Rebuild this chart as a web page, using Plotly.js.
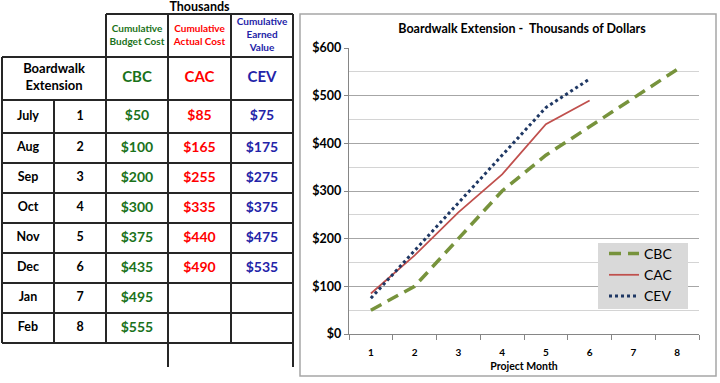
<!DOCTYPE html>
<html><head><meta charset="utf-8">
<script src="https://cdn.plot.ly/plotly-3.0.1.min.js"></script>
<style>html,body{margin:0;padding:0;background:#fff}#chart{width:720px;height:383px}</style>
</head><body><div id="chart"></div>
<script>
// ---- data ----
const months = ['July','Aug','Sep','Oct','Nov','Dec','Jan','Feb'];
const monthNums = [1,2,3,4,5,6,7,8];
const cbc = [50,100,200,300,375,435,495,555];
const cac = [85,165,255,335,440,490];
const cev = [75,175,275,375,475,535];
const seriesNames = ['CBC','CAC','CEV'];
const seriesHeaders = ['Cumulative<br>Budget Cost','Cumulative<br>Actual Cost','Cumulative<br>Earned<br>Value'];
const yTickVals = [0,100,200,300,400,500,600];
const tableTitle = 'Thousands';
const projectLabel = 'Boardwalk<br>Extension';
const chartTitle = 'Boardwalk Extension -  Thousands of Dollars';
const xTitle = 'Project Month';

// ---- layout geometry (pixels) ----
const W = 720, H = 383;
const colEdges = [2,54,106,168,231,293];
const rowEdges = [14,57,100,133,163,193,223,253,283,313,343];
const tailBottom = 367;
const tableColors = ['#1a721a','#ff0000','#2323a8'];
const lineColors = ['#77933c','#c0504d','#1f3864'];
const FONT = 'Lato, "Open Sans", sans-serif';

const colC = i => (colEdges[i] + colEdges[i+1]) / 2;
const rowC = i => (rowEdges[i] + rowEdges[i+1]) / 2;

const traces = [];
// chart lines
traces.push({x: monthNums.slice(0, cbc.length), y: cbc, name: seriesNames[0], type: 'scatter', mode: 'lines',
  line: {color: lineColors[0], width: 3.5, dash: '12px,7px'}, hoverinfo: 'skip'});
traces.push({x: monthNums.slice(0, cac.length), y: cac, name: seriesNames[1], type: 'scatter', mode: 'lines',
  line: {color: lineColors[1], width: 1.75}, hoverinfo: 'skip'});
traces.push({x: monthNums.slice(0, cev.length), y: cev, name: seriesNames[2], type: 'scatter', mode: 'lines',
  line: {color: lineColors[2], width: 3, dash: 'dot'}, hoverinfo: 'skip'});

// table text
const dataRowY = months.map((m, i) => rowC(i + 2));
function txt(xs, ys, texts, color, size) {
  traces.push({x: xs, y: ys, text: texts, mode: 'text', type: 'scatter', xaxis: 'x2', yaxis: 'y2',
    showlegend: false, hoverinfo: 'skip', cliponaxis: false,
    textfont: {family: FONT, size: size, color: color, weight: 'bold'}, textposition: 'middle center'});
}
txt([ (colEdges[2]+colEdges[5])/2 ], [7.5], [tableTitle], '#000', 12.5);
txt([ (colEdges[0]+colEdges[2])/2 ], [rowC(1)], [projectLabel], '#000', 13);
txt(months.map(() => colC(0)), dataRowY, months, '#000', 12.5);
txt(months.map(() => colC(1)), dataRowY, monthNums.map(String), '#000', 12.5);
[cbc, cac, cev].forEach((arr, k) => {
  txt([colC(k + 2)], [rowC(0)], [seriesHeaders[k]], tableColors[k], 10);
  txt([colC(k + 2)], [rowC(1)], [seriesNames[k]], tableColors[k], 15);
  txt(arr.map(() => colC(k + 2)), dataRowY.slice(0, arr.length), arr.map(v => '$' + v), tableColors[k], 14);
});

// table lines
const shapes = [];
const LC = '#262626', LW = 2;
function seg(x0, y0, x1, y1) {
  shapes.push({type: 'line', xref: 'x2', yref: 'y2', x0, y0, x1, y1, line: {color: LC, width: LW}});
}
seg(colEdges[2], rowEdges[0], colEdges[5], rowEdges[0]);
for (let r = 1; r < rowEdges.length; r++) seg(colEdges[0], rowEdges[r], colEdges[5], rowEdges[r]);
seg(colEdges[0], rowEdges[1], colEdges[0], rowEdges[rowEdges.length-1]);
seg(colEdges[1], rowEdges[2], colEdges[1], rowEdges[rowEdges.length-1]);
seg(colEdges[2], rowEdges[0], colEdges[2], rowEdges[rowEdges.length-1]);
seg(colEdges[3], rowEdges[0], colEdges[3], tailBottom);
seg(colEdges[4], rowEdges[0], colEdges[4], rowEdges[rowEdges.length-1]);
seg(colEdges[5], rowEdges[0], colEdges[5], tailBottom);
// chart frame
shapes.push({type: 'rect', xref: 'x2', yref: 'y2', x0: 300, y0: 14, x1: 716, y1: 376,
  line: {color: '#a6a6a6', width: 1.5}, fillcolor: 'rgba(0,0,0,0)', layer: 'below'});
// legend box
shapes.push({type: 'rect', xref: 'x2', yref: 'y2', x0: 598, y0: 243, x1: 688, y1: 309,
  line: {width: 0}, fillcolor: '#d9d9d9', layer: 'above'});

const layout = {
  width: W, height: H,
  margin: {l: 0, r: 0, t: 0, b: 0},
  paper_bgcolor: '#fff', plot_bgcolor: 'rgba(0,0,0,0)',
  font: {family: FONT, color: '#000'},
  showlegend: true,
  title: {text: chartTitle, x: 522 / W, y: 1 - 29 / H, xanchor: 'center', yanchor: 'middle', xref: 'paper', yref: 'paper',
    font: {family: FONT, size: 12.5, weight: 'bold', color: '#000'}},
  xaxis: {domain: [349 / W, 699 / W], range: [0.5, 8.5], tickvals: monthNums, ticks: '', showgrid: false, zeroline: false,
    showline: true, linecolor: '#868686', linewidth: 1.2, ticklabelstandoff: 9,
    tickfont: {family: FONT, size: 10, weight: 'bold', color: '#000'},
    minor: {tickmode: 'linear', tick0: 0.5, dtick: 1, ticks: 'outside', ticklen: 5, tickcolor: '#868686', showgrid: false},
    title: {text: xTitle, font: {family: FONT, size: 10.5, weight: 'bold', color: '#000'}, standoff: 5},
    fixedrange: true},
  yaxis: {domain: [1 - 334 / H, 1 - 48 / H], range: [0, 600], tickvals: yTickVals, ticktext: yTickVals.map(v => '$' + v),
    ticks: 'outside', ticklen: 4, tickcolor: '#868686', showline: true, linecolor: '#868686', linewidth: 1.2,
    showgrid: true, gridcolor: '#a6a6a6', gridwidth: 1, zeroline: false,
    minor: {dtick: 50, showgrid: true, gridcolor: '#d4d4d4', gridwidth: 1, ticks: ''},
    tickfont: {family: FONT, size: 12.5, weight: 'bold', color: '#000'}, fixedrange: true},
  xaxis2: {domain: [0, 1], range: [0, W], visible: false, fixedrange: true},
  yaxis2: {domain: [0, 1], range: [H, 0], visible: false, fixedrange: true},
  legend: {x: 604 / W, y: 1 - 238 / H, xanchor: 'left', yanchor: 'top', bgcolor: 'rgba(0,0,0,0)', borderwidth: 0,
    font: {family: FONT, size: 14, color: '#000'}, itemwidth: 30},
  shapes: shapes
};

Plotly.newPlot('chart', traces, layout, {displayModeBar: false, staticPlot: true});
</script>
</body></html>
